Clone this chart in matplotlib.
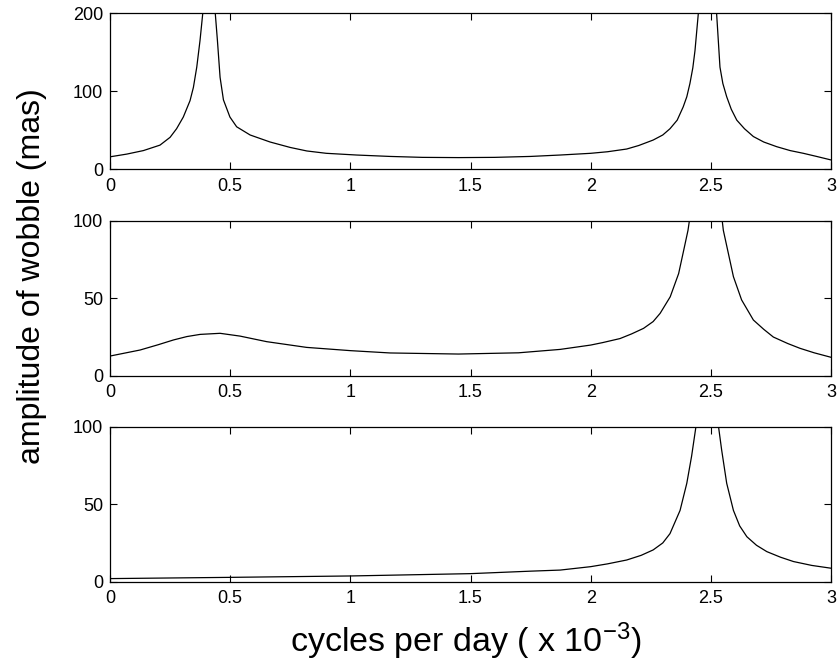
import matplotlib
matplotlib.use('Agg')
import matplotlib.pyplot as plt

plt.rcParams['font.family'] = ['Liberation Sans', 'DejaVu Sans']
plt.rcParams['mathtext.fontset'] = 'custom'
plt.rcParams['mathtext.rm'] = 'Liberation Sans'
plt.rcParams['mathtext.it'] = 'Liberation Sans'

# top panel
x_top = [0, 0.07, 0.139, 0.208, 0.25, 0.277, 0.305, 0.333, 0.347, 0.361, 0.3745, 0.386, 0.41,
         0.438, 0.447, 0.458, 0.472, 0.499, 0.527, 0.583, 0.666, 0.75, 0.819, 0.9, 1.026,
         1.165, 1.3, 1.45, 1.6, 1.75, 1.873, 2.0, 2.07, 2.15, 2.2, 2.26, 2.3, 2.33, 2.36, 2.385,
         2.40, 2.413, 2.425, 2.434, 2.448, 2.486, 2.524, 2.538, 2.55, 2.566, 2.585, 2.608, 2.64,
         2.677, 2.72, 2.774, 2.83, 2.885, 2.94, 3.0]
y_top = [16, 19.5, 24, 31, 41, 52, 67, 88, 105, 131, 165, 200, 900,
         200, 165, 118, 89, 67, 54.5, 44, 35, 28, 23.5, 20.5, 18.3,
         16.5, 15.3, 15, 15.3, 16.5, 18.3, 20.5, 22.5, 26, 30.5, 37.5, 44, 52, 63, 80,
         93, 110, 130, 152, 200, 900, 200, 131, 110, 93, 77, 63, 52,
         42, 35, 29, 24, 20.5, 16.5, 12]

# middle panel
x_mid = [0, 0.125, 0.2, 0.264, 0.32, 0.375, 0.458, 0.541, 0.652, 0.818, 1.0, 1.165, 1.45, 1.7,
         1.873, 2.0, 2.05, 2.122, 2.17, 2.22, 2.26, 2.289, 2.331, 2.366, 2.387, 2.405, 2.42,
         2.48, 2.54, 2.552, 2.573, 2.594, 2.628, 2.677, 2.72, 2.76, 2.82, 2.871, 2.93, 3.0]
y_mid = [12.7, 16.6, 20, 23.1, 25.3, 26.7, 27.4, 25.6, 22, 18.3, 16.2, 14.7, 14, 14.8,
         17, 19.8, 21.4, 24, 27, 30.6, 35, 40.3, 51, 66, 81, 94, 110,
         300, 110, 94, 79, 64, 49, 36, 30, 25, 20.8, 17.7, 14.8, 11.9]

# bottom panel
x_bot = [0, 0.5, 1.0, 1.5, 1.75, 1.873, 2.0, 2.07, 2.15, 2.21, 2.26, 2.3, 2.33, 2.372, 2.40,
         2.42, 2.438, 2.45, 2.485, 2.52, 2.532, 2.545, 2.566, 2.594, 2.62, 2.65, 2.69, 2.733,
         2.79, 2.844, 2.92, 3.0]
y_bot = [2, 2.8, 3.7, 5.2, 6.8, 7.5, 9.7, 11.5, 14, 17, 20.5, 25, 31, 46, 63.5,
         81, 100, 120, 400, 120, 100, 85, 63.5, 46, 36, 29, 23.5, 19.4,
         15.8, 13, 10.5, 8.7]

x_ticks = [0, 0.5, 1, 1.5, 2, 2.5, 3]
x_ticklabels = ['0', '0.5', '1', '1.5', '2', '2.5', '3']

W, H = 839, 667
fig = plt.figure(figsize=(W / 100, H / 100), dpi=100)

left = 110 / W
width = (831 - 110) / W
panels = [
    (x_top, y_top, 13.3, 169.3, 200, [0, 100, 200]),
    (x_mid, y_mid, 221, 375.7, 100, [0, 50, 100]),
    (x_bot, y_bot, 426.7, 581.7, 100, [0, 50, 100]),
]

for x, y, top, bottom, ymax, yt in panels:
    ax = fig.add_axes([left, 1 - bottom / H, width, (bottom - top) / H])
    ax.plot(x, y, color='black', lw=0.9)
    ax.set_xlim(0, 3)
    ax.set_ylim(0, ymax)
    ax.set_xticks(x_ticks)
    ax.set_xticklabels(x_ticklabels)
    ax.set_yticks(yt)
    ax.tick_params(direction='in', top=True, right=True, length=5, width=0.8,
                   labelsize=13)
    ax.tick_params(axis='x', pad=6)
    ax.tick_params(axis='y', pad=5)
    for s in ax.spines.values():
        s.set_linewidth(0.9)

fig.text(466 / W, 1 - 652 / H, r'cycles per day ( x 10$^{-3}$)', fontsize=24.5,
         ha='center', va='baseline')
fig.text(32 / W, 1 - 276 / H, 'amplitude of wobble (mas)', fontsize=23,
         rotation=90, ha='center', va='center')

fig.savefig('out.png', dpi=100)
